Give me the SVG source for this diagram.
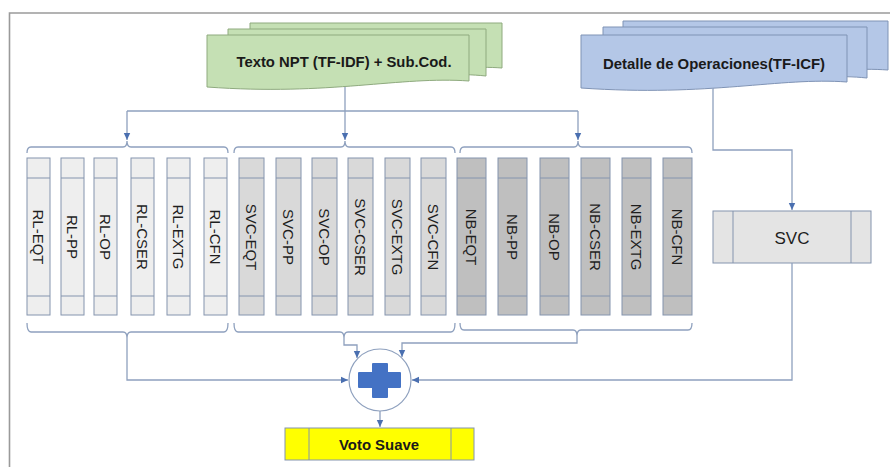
<svg xmlns="http://www.w3.org/2000/svg" width="890" height="467" viewBox="0 0 890 467">
<style>
  .frame{fill:none;stroke:#9a9a9a;stroke-width:1.6}
  .green{fill:#C5E0B4;stroke:#8FAA7F;stroke-width:1}
  .blue{fill:#B4C7E7;stroke:#7F93B5;stroke-width:1}
  .rl{fill:#EEEEEE;stroke:#8494AE;stroke-width:1}
  .svc{fill:#D9D9D9;stroke:#8494AE;stroke-width:1}
  .nb{fill:#BFBFBF;stroke:#8494AE;stroke-width:1}
  .div{fill:none;stroke:#8494AE;stroke-width:1}
  .lbl{font-family:"Liberation Sans","DejaVu Sans",sans-serif;font-size:15px;fill:#1e1e1e;text-anchor:middle;dominant-baseline:central}
  .hdr{font-family:"Liberation Sans","DejaVu Sans",sans-serif;font-size:15px;font-weight:bold;fill:#1a1a1a;text-anchor:middle;dominant-baseline:central}
  .conn{fill:none;stroke:#8EA0BE;stroke-width:1.3}
  .arr{fill:none;stroke:#8EA0BE;stroke-width:1.3;marker-end:url(#ah)}
</style>
<defs>
  <marker id="ah" markerUnits="userSpaceOnUse" markerWidth="8" markerHeight="8" viewBox="0 0 8 8" refX="7" refY="4" orient="auto">
    <path d="M0,0.8 L7,4 L0,7.2 Z" fill="#4A6FB0"/>
  </marker>
</defs>
<rect width="890" height="467" fill="#ffffff"/>
<path class="frame" d="M9.5,467 V13 H890"/>

<g id="texto-npt">
  <path class="green" d="M250,23 H502 V68 C450,64 400,80 250,74 Z"/>
  <path class="green" d="M228,29 H486 V76 C430,70 380,86 228,80 Z"/>
  <path class="green" d="M207,35 H469 V81 C400,76 330,96 207,87 Z"/>
  <text class="hdr" x="344" y="61" textLength="215" lengthAdjust="spacingAndGlyphs">Texto NPT (TF-IDF) + Sub.Cod.</text>
</g>

<g id="detalle-operaciones">
  <path class="blue" d="M623,21 H888 V70 C830,66 780,80 623,74 Z"/>
  <path class="blue" d="M603,27 H867 V78 C810,72 760,88 603,80 Z"/>
  <path class="blue" d="M581,35 H847 V82 C780,77 710,97 581,88 Z"/>
  <text class="hdr" x="714" y="63" textLength="222" lengthAdjust="spacingAndGlyphs">Detalle de Operaciones(TF-ICF)</text>
</g>

<g id="rl-eqt"><rect class="rl" x="27" y="158" width="23" height="157"/><path class="div" d="M27,178 H50 M27,296 H50"/><text class="lbl" transform="translate(38.5,237) rotate(90)">RL-EQT</text></g>
<g id="rl-pp"><rect class="rl" x="61" y="158" width="23" height="157"/><path class="div" d="M61,178 H84 M61,296 H84"/><text class="lbl" transform="translate(72.5,237) rotate(90)">RL-PP</text></g>
<g id="rl-op"><rect class="rl" x="94" y="158" width="23" height="157"/><path class="div" d="M94,178 H117 M94,296 H117"/><text class="lbl" transform="translate(105.5,237) rotate(90)">RL-OP</text></g>
<g id="rl-cser"><rect class="rl" x="131" y="158" width="23" height="157"/><path class="div" d="M131,178 H154 M131,296 H154"/><text class="lbl" transform="translate(142.5,237) rotate(90)">RL-CSER</text></g>
<g id="rl-extg"><rect class="rl" x="167" y="158" width="23" height="157"/><path class="div" d="M167,178 H190 M167,296 H190"/><text class="lbl" transform="translate(178.5,237) rotate(90)">RL-EXTG</text></g>
<g id="rl-cfn"><rect class="rl" x="204" y="158" width="23" height="157"/><path class="div" d="M204,178 H227 M204,296 H227"/><text class="lbl" transform="translate(215.5,237) rotate(90)">RL-CFN</text></g>

<g id="svc-eqt"><rect class="svc" x="239" y="158" width="25" height="157"/><path class="div" d="M239,178 H264 M239,296 H264"/><text class="lbl" transform="translate(251.5,237) rotate(90)">SVC-EQT</text></g>
<g id="svc-pp"><rect class="svc" x="276" y="158" width="25" height="157"/><path class="div" d="M276,178 H301 M276,296 H301"/><text class="lbl" transform="translate(288.5,237) rotate(90)">SVC-PP</text></g>
<g id="svc-op"><rect class="svc" x="312" y="158" width="25" height="157"/><path class="div" d="M312,178 H337 M312,296 H337"/><text class="lbl" transform="translate(324.5,237) rotate(90)">SVC-OP</text></g>
<g id="svc-cser"><rect class="svc" x="348" y="158" width="25" height="157"/><path class="div" d="M348,178 H373 M348,296 H373"/><text class="lbl" transform="translate(360.5,237) rotate(90)">SVC-CSER</text></g>
<g id="svc-extg"><rect class="svc" x="385" y="158" width="25" height="157"/><path class="div" d="M385,178 H410 M385,296 H410"/><text class="lbl" transform="translate(397.5,237) rotate(90)">SVC-EXTG</text></g>
<g id="svc-cfn"><rect class="svc" x="421" y="158" width="25" height="157"/><path class="div" d="M421,178 H446 M421,296 H446"/><text class="lbl" transform="translate(433.5,237) rotate(90)">SVC-CFN</text></g>

<g id="nb-eqt"><rect class="nb" x="457" y="158" width="29" height="157"/><path class="div" d="M457,178 H486 M457,296 H486"/><text class="lbl" transform="translate(471.5,237) rotate(90)">NB-EQT</text></g>
<g id="nb-pp"><rect class="nb" x="498" y="158" width="29" height="157"/><path class="div" d="M498,178 H527 M498,296 H527"/><text class="lbl" transform="translate(512.5,237) rotate(90)">NB-PP</text></g>
<g id="nb-op"><rect class="nb" x="540" y="158" width="29" height="157"/><path class="div" d="M540,178 H569 M540,296 H569"/><text class="lbl" transform="translate(554.5,237) rotate(90)">NB-OP</text></g>
<g id="nb-cser"><rect class="nb" x="581" y="158" width="29" height="157"/><path class="div" d="M581,178 H610 M581,296 H610"/><text class="lbl" transform="translate(595.5,237) rotate(90)">NB-CSER</text></g>
<g id="nb-extg"><rect class="nb" x="622" y="158" width="29" height="157"/><path class="div" d="M622,178 H651 M622,296 H651"/><text class="lbl" transform="translate(636.5,237) rotate(90)">NB-EXTG</text></g>
<g id="nb-cfn"><rect class="nb" x="663" y="158" width="29" height="157"/><path class="div" d="M663,178 H692 M663,296 H692"/><text class="lbl" transform="translate(677.5,237) rotate(90)">NB-CFN</text></g>

<g id="svc">
  <rect x="713" y="211" width="158" height="52" fill="#E4E4E4" stroke="#8494AE" stroke-width="1"/>
  <path class="div" d="M733,211 V263 M851,211 V263"/>
  <text x="792" y="238" font-family="'Liberation Sans','DejaVu Sans',sans-serif" font-size="17" fill="#1e1e1e" text-anchor="middle" dominant-baseline="central">SVC</text>
</g>

<g id="suma">
  <circle cx="380" cy="380" r="31" fill="#ffffff" stroke="#8EA0BE" stroke-width="1.2"/>
  <path d="M373,364 H387 V373 H400 V387 H387 V397 H373 V387 H359 V373 H373 Z" fill="#4472C4" stroke="#4472C4" stroke-width="2" stroke-linejoin="round"/>
</g>

<g id="voto-suave">
  <rect x="285" y="428" width="189" height="32" fill="#FFFF00" stroke="#8494AE" stroke-width="1"/>
  <path class="div" d="M309,428 V460 M451,428 V460"/>
  <text class="hdr" x="379" y="444" font-size="16" textLength="80" lengthAdjust="spacingAndGlyphs">Voto Suave</text>
</g>

<g id="connectors">
  <path class="conn" d="M27,153 Q27,147 31,147 H123 Q127,147 127,141 Q127,147 131,147 H224 Q228,147 228,153"/>
  <path class="conn" d="M234,153 Q234,147 238,147 H341 Q345,147 345,141 Q345,147 349,147 H451 Q455,147 455,153"/>
  <path class="conn" d="M460,153 Q460,147 464,147 H574 Q578,147 578,141 Q578,147 582,147 H688 Q692,147 692,153"/>
  <path class="conn" d="M27,323 Q27,332 31,332 H123 Q127,332 127,338 Q127,332 131,332 H224 Q228,332 228,323"/>
  <path class="conn" d="M234,323 Q234,332 238,332 H340 Q344,332 344,338 Q344,332 348,332 H451 Q455,332 455,323"/>
  <path class="conn" d="M460,323 Q460,330 464,330 H573 Q577,330 577,336 Q577,330 581,330 H688 Q692,330 692,323"/>
  <path class="conn" d="M345,87 V111"/>
  <path class="conn" d="M127,111 H578"/>
  <path class="arr" d="M127,111 V140"/>
  <path class="arr" d="M345,111 V140"/>
  <path class="arr" d="M578,111 V140"/>
  <path class="arr" d="M713,88 V150 H792 V210"/>
  <path class="arr" d="M127,338 V380 H348"/>
  <path class="arr" d="M344,338 V345 H357 V358"/>
  <path class="arr" d="M577,336 V343 H402 V357"/>
  <path class="arr" d="M792,263 V380 H412"/>
  <path class="arr" d="M380,411 V427"/>
</g>
</svg>
